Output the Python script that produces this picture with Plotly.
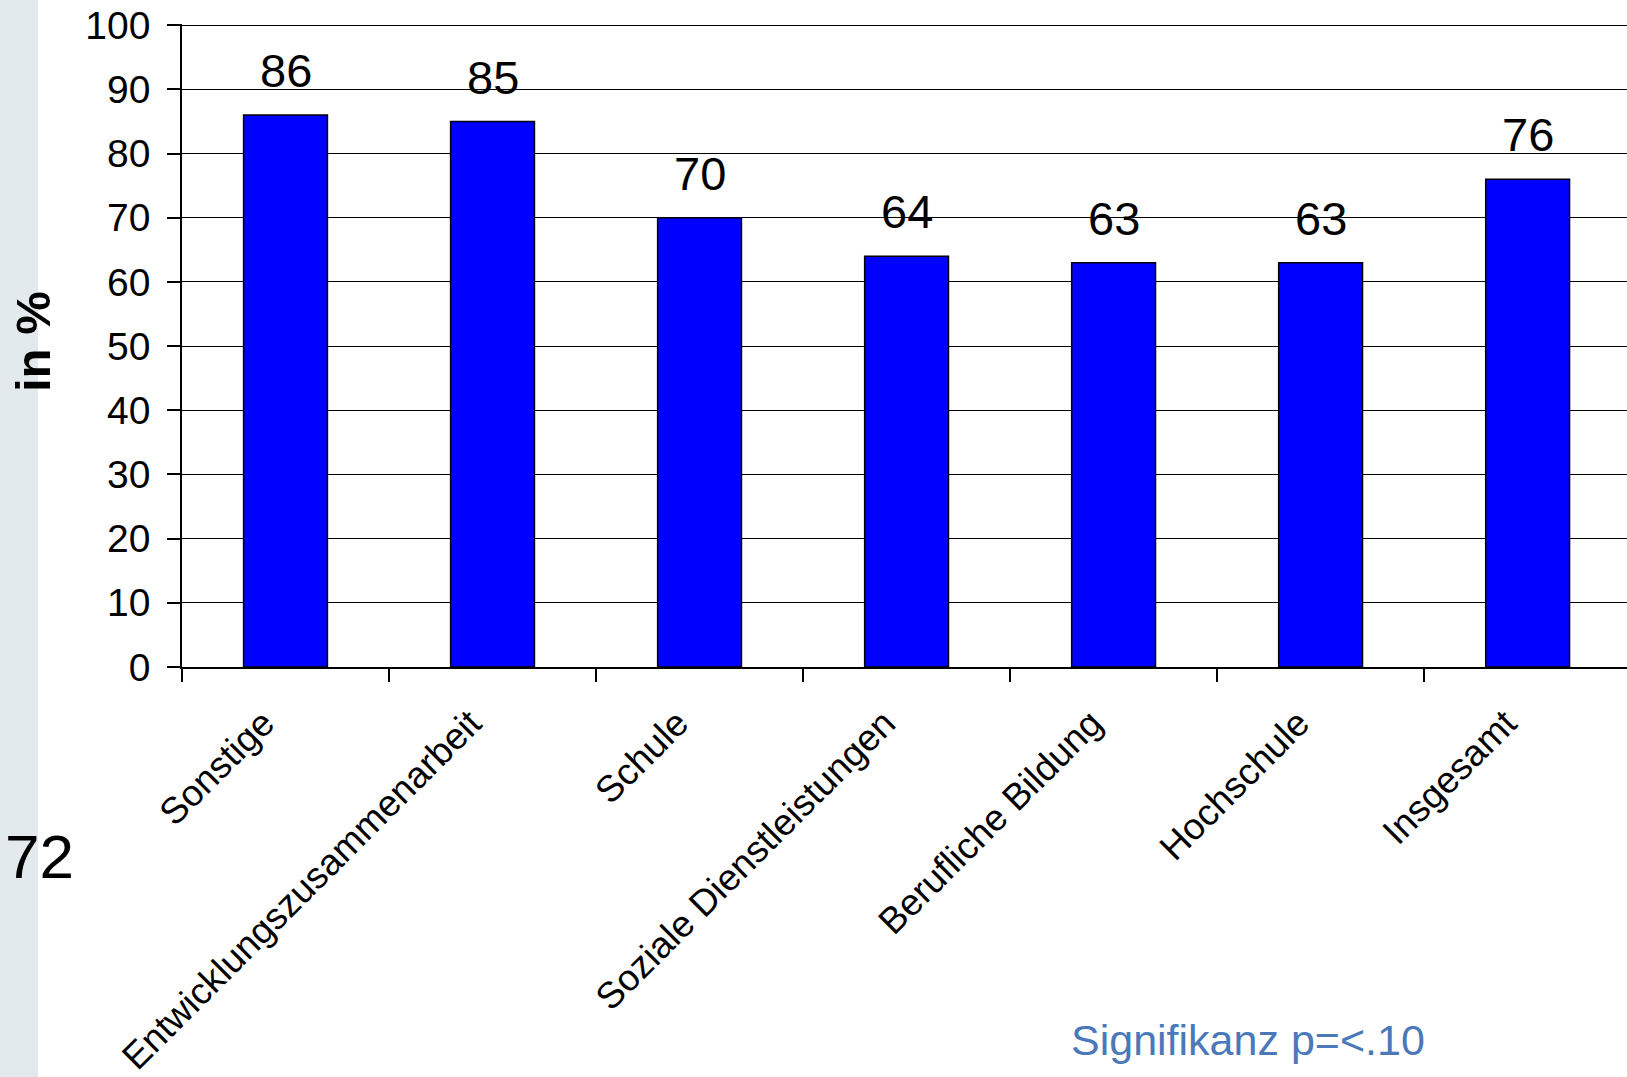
import plotly.graph_objects as go

# --- data ---
categories = ["Sonstige", "Entwicklungszusammenarbeit", "Schule",
              "Soziale Dienstleistungen", "Berufliche Bildung", "Hochschule", "Insgesamt"]
values = [86, 85, 70, 64, 63, 63, 76]
y_ticks = [0, 10, 20, 30, 40, 50, 60, 70, 80, 90, 100]

W, H = 1627, 1077
L, T, B = 182, 24, 410  # plot box in pixels
PW, PH = W - L, H - T - B
FONT = "Liberation Sans, Arial, sans-serif"


def px(x):  # pixel -> paper x
    return (x - L) / PW


def py(y):  # pixel -> paper y
    return (H - B - y) / PH


fig = go.Figure()
fig.add_trace(go.Bar(
    x=categories, y=values, width=0.405,
    marker=dict(color="#0000FF", line=dict(color="black", width=1.5)),
    hoverinfo="x+y",
))

# value labels above the bars
for c, v in zip(categories, values):
    fig.add_annotation(x=c, y=v, text=str(v), showarrow=False, yanchor="bottom",
                       yshift=16, font=dict(family=FONT, size=47, color="black"))

# grey strip on the left
fig.add_shape(type="rect", xref="paper", yref="paper", x0=px(0), x1=px(38),
              y0=py(H + 20), y1=py(-5), fillcolor="#E3EAEE", line_width=0, layer="below")

fig.add_annotation(xref="paper", yref="paper", x=px(33), y=py(342), text="<b>in %</b>",
                   textangle=-90, showarrow=False, xanchor="center", yanchor="middle",
                   font=dict(family=FONT, size=49, color="black"))
fig.add_annotation(xref="paper", yref="paper", x=px(39), y=py(856), text="72",
                   showarrow=False, xanchor="center", yanchor="middle",
                   font=dict(family=FONT, size=62, color="black"))
fig.add_annotation(xref="paper", yref="paper", x=px(1069), y=py(1040), text="Signifikanz p=<.10",
                   showarrow=False, xanchor="left", yanchor="middle",
                   font=dict(family=FONT, size=43, color="#4A78B9"))

fig.update_layout(
    width=W, height=H,
    margin=dict(l=L, r=0, t=T, b=B, autoexpand=False),
    paper_bgcolor="white", plot_bgcolor="white",
    showlegend=False,
    font=dict(family=FONT, color="black"),
    xaxis=dict(
        type="category", range=[-0.5, 6.48], tickangle=-45, automargin=False,
        tickson="boundaries", ticks="outside", ticklen=13, tickwidth=1.5, tickcolor="black",
        ticklabelstandoff=18, ticklabelshift=-22,
        showline=True, linecolor="black", linewidth=1.5, showgrid=False,
        tickfont=dict(family=FONT, size=37, color="black"),
    ),
    yaxis=dict(
        range=[0, 100.2], tickvals=y_ticks, ticks="outside", ticklen=13, automargin=False,
        tickwidth=1.5, tickcolor="black", ticklabelstandoff=9, ticklabeloverflow="allow",
        showline=True, linecolor="black", linewidth=1.5,
        showgrid=True, gridcolor="black", gridwidth=1.4, zeroline=False,
        tickfont=dict(family=FONT, size=39, color="black"),
    ),
)

# drop the browser's default 8px body margin so the figure sits at the page corner
fig.write_html("out.html", config={"displayModeBar": False},
               post_script="document.body.style.margin='0';")
